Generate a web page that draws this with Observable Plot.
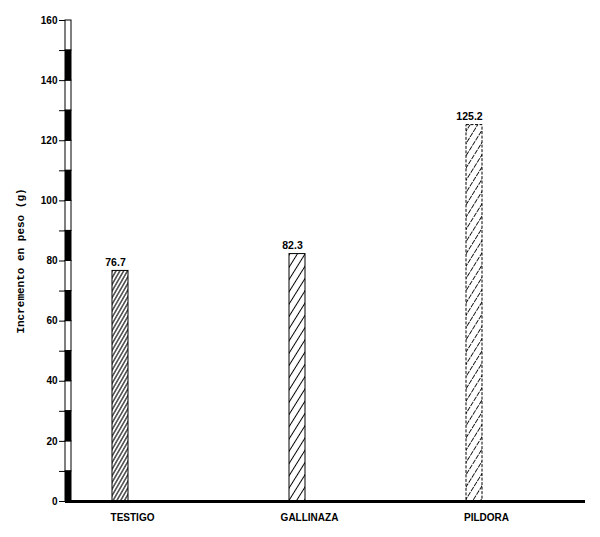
<!DOCTYPE html>
<html><head><meta charset="utf-8">
<script src="https://cdn.jsdelivr.net/npm/d3@7"></script>
<script src="https://cdn.jsdelivr.net/npm/@observablehq/plot@0.6"></script>
<style>body{margin:0;background:#fff}</style>
</head><body><div id="chart"></div>
<script>
// ---- data ----
const categories = ["TESTIGO", "GALLINAZA", "PILDORA"];
const values = [76.7, 82.3, 125.2];
const valueLabels = ["76.7", "82.3", "125.2"];
const patternIds = ["hatch-dense", "hatch-medium", "hatch-dashed"];
const yTicks = [0, 10, 20, 30, 40, 50, 60, 70, 80, 90, 100, 110, 120, 130, 140, 150, 160];
const yTitle = "Incremento en peso (g)";

const rows = categories.map((c, i) => ({cat: c, value: values[i], label: valueLabels[i], pattern: patternIds[i]}));
const segments = yTicks.slice(0, -1).map((t, i) => ({y1: t, y2: yTicks[i + 1], dark: i % 2 === 0}));

const barMarks = rows.map(r => Plot.barY([r], {
  x: "cat", y: "value",
  fill: `url(#${r.pattern})`,
  stroke: "black", strokeWidth: 1,
  strokeDasharray: r.pattern === "hatch-dashed" ? "3,1.5" : null
}));

const chart = Plot.plot({
  width: 600, height: 537,
  marginTop: 20, marginBottom: 36, marginLeft: 65, marginRight: 15,
  style: {fontFamily: "'Liberation Sans', Arial, sans-serif", background: "white", color: "black"},
  x: {type: "band", domain: categories, range: [112, 482], paddingInner: 0.91, paddingOuter: 0},
  y: {domain: [0, 160]},
  marks: [
    // axis strip (alternating bands)
    Plot.rect(segments.filter(d => !d.dark), {y1: "y1", y2: "y2", fill: "white", stroke: "black", strokeWidth: 1, insetRight: 514}),
    Plot.rect(segments.filter(d => d.dark), {y1: "y1", y2: "y2", fill: "black", stroke: "black", strokeWidth: 1, insetRight: 514}),
    ...barMarks,
    Plot.ruleY([0], {stroke: "black", strokeWidth: 3}),
    Plot.text(rows, {x: "cat", y: "value", text: "label", dy: -8, dx: -5, fontSize: 10.5, fontWeight: "bold", fill: "black"}),
    Plot.axisY({ticks: yTicks, tickSize: 6, tickPadding: 2, label: null,
      tickFormat: d => d % 20 === 0 ? String(d) : "", fontSize: 10, fontWeight: "bold"}),
    Plot.axisX({tickSize: 0, tickPadding: 12, label: null, fontSize: 10, fontWeight: "bold", dx: 12}),
    Plot.text([yTitle], {frameAnchor: "left", textAnchor: "middle", rotate: -90, dx: -45, fontSize: 11, fontWeight: "bold",
      fontFamily: "'Liberation Mono', 'DejaVu Sans Mono', monospace", fill: "black"})
  ]
});

// hatch patterns
const defs = d3.select(chart).insert("defs", ":first-child");
function hatch(id, spacing, angle, sw, dash) {
  const p = defs.append("pattern").attr("id", id).attr("patternUnits", "userSpaceOnUse")
    .attr("width", spacing).attr("height", 12).attr("patternTransform", `rotate(${angle})`);
  p.append("rect").attr("width", spacing).attr("height", 12).attr("fill", "white");
  const l = p.append("line").attr("x1", spacing / 2).attr("x2", spacing / 2).attr("y1", 0).attr("y2", 12)
    .attr("stroke", "black").attr("stroke-width", sw);
  if (dash) l.attr("stroke-dasharray", dash);
}
hatch("hatch-dense", 3.3, 30, 1.1);
hatch("hatch-medium", 6.5, 32, 1);
hatch("hatch-dashed", 6.5, 32, 0.9, "5,1");

document.getElementById("chart").appendChild(chart);
</script>
</body></html>
